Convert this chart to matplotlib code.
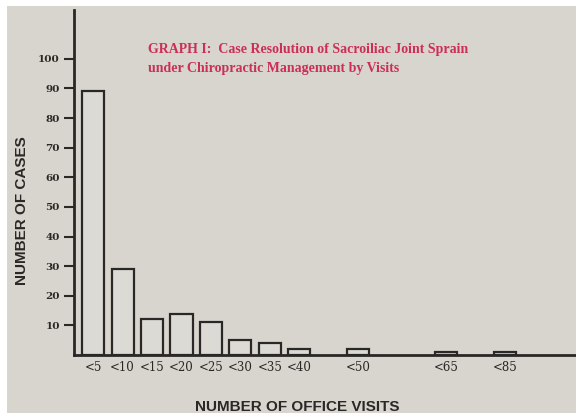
import matplotlib.pyplot as plt

labels = ["<5", "<10", "<15", "<20", "<25", "<30", "<35", "<40", "<50", "<65", "<85"]
cases = [89, 29, 12, 14, 11, 5, 4, 2, 2, 1, 1]
slots = [0, 1, 2, 3, 4, 5, 6, 7, 9, 12, 14]
yticks = [10, 20, 30, 40, 50, 60, 70, 80, 90, 100]

paper = "#d8d5ce"
ink = "#2a2826"

fig = plt.figure(figsize=(5.76, 4.13), dpi=100, facecolor="white")
fig.patches.append(plt.Rectangle((0.012, 0), 0.988, 0.985, transform=fig.transFigure,
                                 facecolor=paper, edgecolor="none", zorder=-10))
ax = fig.add_axes([0.128, 0.1404, 0.872, 0.8356])
ax.set_facecolor("none")

ax.bar(slots, cases, width=0.75, facecolor="#dcdad4", edgecolor=ink, linewidth=1.6)

ax.set_xlim(-0.66, 16.4)
ax.set_ylim(0, 116.5)
ax.set_yticks(yticks)
ax.set_yticklabels([str(v) for v in yticks], fontsize=7.5, fontweight="bold",
                   family="DejaVu Serif", color=ink)
ax.set_xticks(slots)
ax.set_xticklabels(labels, fontsize=8.5, family="DejaVu Serif", color=ink)
ax.tick_params(axis="y", length=7, width=1.5, color=ink, pad=3)
ax.tick_params(axis="x", length=0, pad=4)

for s in ["top", "right"]:
    ax.spines[s].set_visible(False)
for s in ["left", "bottom"]:
    ax.spines[s].set_linewidth(2)
    ax.spines[s].set_color(ink)

fig.text(0.038, 0.489, "NUMBER OF CASES", fontsize=11, fontweight="bold", color=ink,
         family="Liberation Sans", rotation=90, ha="center", va="center")
fig.text(0.516, 0.015, "NUMBER OF OFFICE VISITS", fontsize=11, fontweight="bold",
         color=ink, family="Liberation Sans", ha="center", va="center")

fig.text(0.257, 0.856, "GRAPH I:  Case Resolution of Sacroiliac Joint Sprain\n"
         "under Chiropractic Management by Visits",
         fontsize=10, fontweight="bold", color="#cc2e55", family="Liberation Serif",
         ha="left", va="center", linespacing=1.6)

fig.savefig("out.png", dpi=100, facecolor=fig.get_facecolor())
